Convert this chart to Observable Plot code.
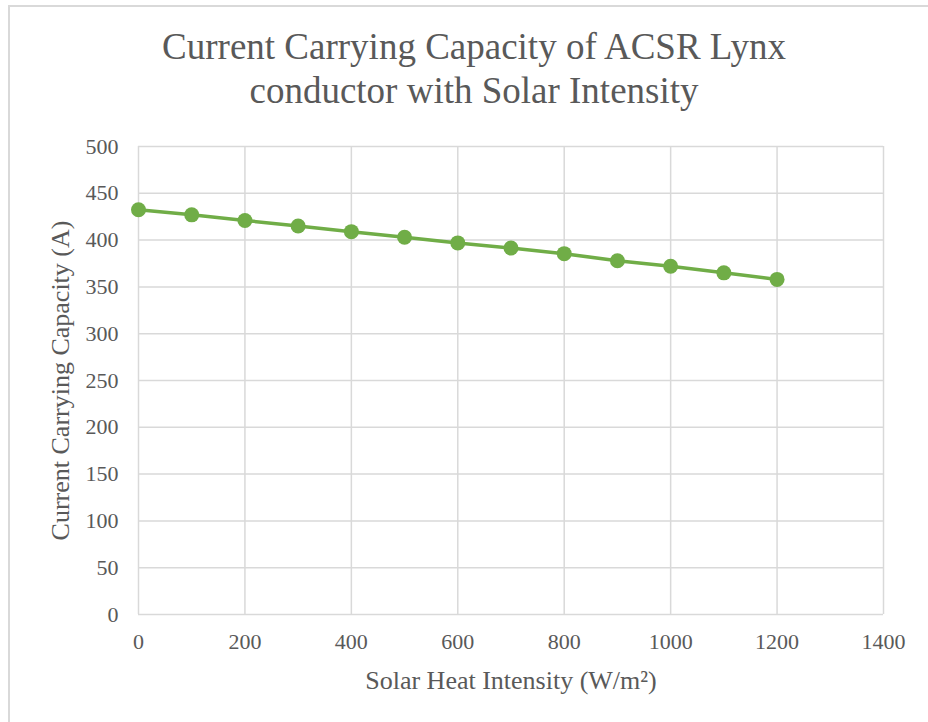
<!DOCTYPE html>
<html>
<head>
<meta charset="utf-8">
<script src="https://cdn.jsdelivr.net/npm/d3@7"></script>
<script src="https://cdn.jsdelivr.net/npm/@observablehq/plot@0.6"></script>
<style>
  html, body { margin: 0; padding: 0; width: 928px; height: 722px; overflow: hidden; background: #fff; }
  #frame { position: absolute; left: 8px; top: 5px; width: 1000px; height: 800px; border: 2px solid #d9d9d9; box-sizing: border-box; }
  #wrap { position: absolute; left: 0; top: 0; width: 928px; }
  #title { height: 130px; box-sizing: border-box; padding-top: 25px; text-align: center; font-family: "Liberation Serif", "Times New Roman", serif; font-size: 37px; line-height: 44px; color: #595959; padding-left: 20px; }
  svg { display: block; }
</style>
</head>
<body>
<div id="frame"></div>
<div id="wrap">
  <div id="title">Current Carrying Capacity of ACSR Lynx<br>conductor with Solar Intensity</div>
  <div id="chart"></div>
</div>
<script>
const solarIntensity = [0, 100, 200, 300, 400, 500, 600, 700, 800, 900, 1000, 1100, 1200];
const capacity = [432.5, 427, 421, 415, 409, 403, 397, 391.5, 385.5, 378, 372, 365, 358];
const xTicks = [0, 200, 400, 600, 800, 1000, 1200, 1400];
const yTicks = [0, 50, 100, 150, 200, 250, 300, 350, 400, 450, 500];

const data = solarIntensity.map((x, i) => ({x, y: capacity[i]}));

const chart = Plot.plot({
  width: 928,
  height: 592,
  marginLeft: 138,
  marginRight: 45,
  marginTop: 16,
  marginBottom: 108,
  style: { fontFamily: "'Liberation Serif', 'Times New Roman', serif", fontSize: "22px", color: "#595959", background: "transparent", overflow: "visible" },
  x: { domain: [0, 1400], ticks: xTicks, label: null },
  y: { domain: [0, 500], ticks: yTicks, label: null },
  marks: [
    Plot.gridX(xTicks, { stroke: "#d9d9d9", strokeOpacity: 1, strokeWidth: 1.5 }),
    Plot.gridY(yTicks, { stroke: "#d9d9d9", strokeOpacity: 1, strokeWidth: 1.5 }),
    Plot.axisX(xTicks, { tickSize: 0, tickPadding: 19, fontSize: 22, fill: "#595959", label: null, tickFormat: d3.format("d") }),
    Plot.axisY(yTicks, { tickSize: 0, tickPadding: 20, fontSize: 22, fill: "#595959", label: null, tickFormat: d3.format("d") }),
    Plot.text(["Solar Heat Intensity (W/m²)"], { frameAnchor: "bottom", dy: 74, fontSize: 26, fill: "#595959", textAnchor: "middle" }),
    Plot.text(["Current Carrying Capacity (A)"], { frameAnchor: "left", dx: -78, rotate: -90, fontSize: 26, fill: "#595959", textAnchor: "middle" }),
    Plot.line(data, { x: "x", y: "y", stroke: "#70ad47", strokeWidth: 3.5 }),
    Plot.dot(data, { x: "x", y: "y", r: 7.5, fill: "#70ad47", stroke: "none" })
  ]
});
document.getElementById("chart").appendChild(chart);
</script>
</body>
</html>
